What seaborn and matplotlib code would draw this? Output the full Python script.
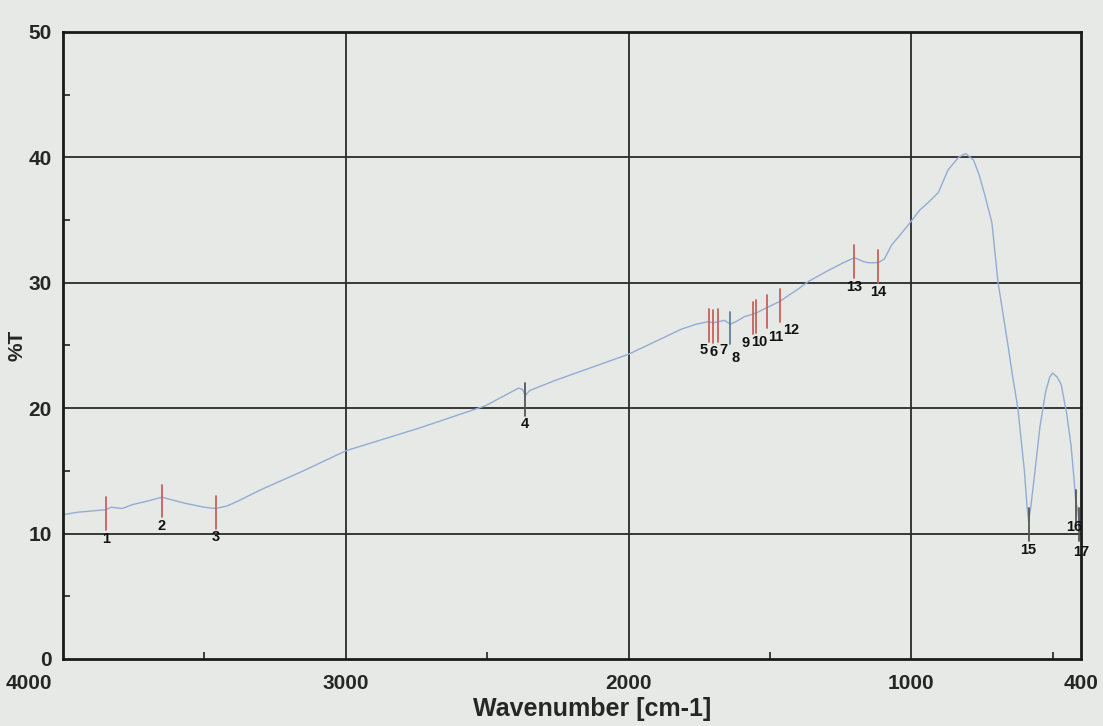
import matplotlib
matplotlib.use("Agg")
import numpy as np
import pandas as pd
import matplotlib.pyplot as plt
import matplotlib.transforms as mtransforms
import seaborn as sns
from matplotlib.ticker import MultipleLocator, FixedLocator

# spectrum (wavenumber, %T)
wavenumber = [4000, 3950, 3900, 3848, 3830, 3790, 3756, 3700, 3650, 3600, 3565,
              3500, 3460, 3420, 3380, 3300, 3150, 3000, 2742, 2505, 2389, 2375,
              2365, 2350, 2261, 2000, 1813, 1760, 1717, 1700, 1682, 1660, 1640,
              1620, 1590, 1560, 1548, 1512, 1466, 1400, 1364, 1300, 1240, 1201,
              1170, 1152, 1117, 1095, 1070, 1040, 1011, 970, 940, 904, 870, 833,
              808, 780, 760, 740, 715, 693, 660, 640, 623, 600, 590, 585, 578,
              565, 545, 525, 510, 500, 485, 470, 450, 435, 425, 418, 412, 407, 400]
transmittance = [11.5, 11.7, 11.8, 11.9, 12.1, 12.0, 12.3, 12.6, 12.9, 12.6, 12.4,
                 12.1, 12.0, 12.2, 12.6, 13.5, 15.0, 16.6, 18.4, 20.2, 21.6, 21.5,
                 21.0, 21.4, 22.2, 24.3, 26.3, 26.7, 26.9, 26.8, 26.9, 27.0, 26.7,
                 26.9, 27.3, 27.5, 27.6, 28.0, 28.5, 29.5, 30.1, 30.9, 31.6, 32.0,
                 31.7, 31.6, 31.6, 31.9, 33.0, 33.8, 34.6, 35.8, 36.4, 37.2, 39.0,
                 40.0, 40.3, 39.8, 38.6, 37.0, 34.8, 30.0, 25.3, 22.3, 20.0, 15.0,
                 12.0, 11.0, 12.0, 14.5, 18.5, 21.3, 22.5, 22.8, 22.5, 21.9, 19.5,
                 17.0, 14.5, 12.5, 12.0, 11.0, 10.5]

# picked peaks
peak_labels = [str(i) for i in range(1, 18)]
peak_wn = [3848, 3650, 3460, 2365, 1717, 1700, 1682, 1640, 1560, 1548, 1512, 1466,
           1201, 1117, 585, 418, 407]
peak_t = [11.9, 12.9, 12.0, 21.0, 26.9, 26.8, 26.9, 26.7, 27.5, 27.6, 28.0, 28.5,
          32.0, 31.6, 11.0, 12.5, 11.0]

x_ticks = [4000, 3000, 2000, 1000, 400]

# styling: marker colours and label nudges (pixels) for crowded peaks
red, grey, blue = '#c8605c', '#555555', '#5a7fa8'
peak_colors = [red] * 3 + [grey] + [red] * 3 + [blue] + [red] * 6 + [grey] * 3
label_dx = [0, 0, 0, 0, -5, 0, 5, 5, -7, 3, 9, 12, 0, 0, 0, -2, 2]
label_dy = [0, 0, 0, 0, 0, 0, 0, -5, 0, 0, 0, 0, 0, 0, 0, 4, -2]

paper = '#e7e9e6'
sns.set_theme(style="white")
plt.rcParams['font.family'] = ['Liberation Sans', 'DejaVu Sans']

df = pd.DataFrame({'wn': wavenumber, 'T': transmittance})

fig = plt.figure(figsize=(11.03, 7.26), dpi=100, facecolor=paper)
ax = fig.add_axes([0.0571, 0.0923, 0.9229, 0.8637])
ax.set_facecolor(paper)

sns.lineplot(data=df, x='wn', y='T', ax=ax, color='#93acd4', linewidth=1.0,
             estimator=None, sort=False)

for lab, w, t, c, dx, dy in zip(peak_labels, peak_wn, peak_t, peak_colors,
                                label_dx, label_dy):
    ax.plot([w, w], [t + 1.0, t - 1.6], color=c, linewidth=1.3)
    ax.annotate(lab, (w, t - 2.3), xytext=(dx, dy), textcoords='offset pixels',
                ha='center', va='center', fontsize=10.5, fontweight='bold',
                color='#111111')

ax.set_xlim(4000, 400)
ax.set_ylim(0, 50)
ax.xaxis.set_major_locator(FixedLocator(x_ticks))
ax.xaxis.set_minor_locator(FixedLocator([3500, 2500, 1500, 500]))
ax.yaxis.set_major_locator(MultipleLocator(10))
ax.yaxis.set_minor_locator(MultipleLocator(5))

for v in [3000, 2000, 1000]:
    ax.axvline(v, color='#2a2a2a', linewidth=1.3, zorder=0.5)
for v in [10, 20, 30, 40]:
    ax.axhline(v, color='#2a2a2a', linewidth=1.3, zorder=0.5)

ax.tick_params(axis='x', which='major', length=0, labelsize=15, pad=11)
ax.tick_params(axis='y', which='major', length=0, labelsize=15, pad=8)
ax.tick_params(axis='both', which='minor', direction='in', length=5, width=1.2,
               color='#222222')
ax.tick_params(axis='x', which='minor', bottom=True)
ax.tick_params(axis='y', which='minor', left=True)
for lbl in ax.get_xticklabels() + ax.get_yticklabels():
    lbl.set_fontweight('bold')

# the 4000 label sits left of its tick on the original
first_tick = ax.xaxis.get_major_ticks()[0]
shift = mtransforms.ScaledTranslation(-0.34, 0, fig.dpi_scale_trans)
first_tick.label1.set_transform(first_tick.label1.get_transform() + shift)

for s in ax.spines.values():
    s.set_color('#1a1a1a')
    s.set_linewidth(2.0)

ax.set_xlabel('Wavenumber [cm-1]', fontsize=18, fontweight='bold')
ax.xaxis.set_label_coords(0.52, -0.06)
ax.set_ylabel('%T', fontsize=15, fontweight='bold')
ax.yaxis.set_label_coords(-0.036, 0.5)

fig.savefig('out.png', dpi=100, facecolor=paper)
